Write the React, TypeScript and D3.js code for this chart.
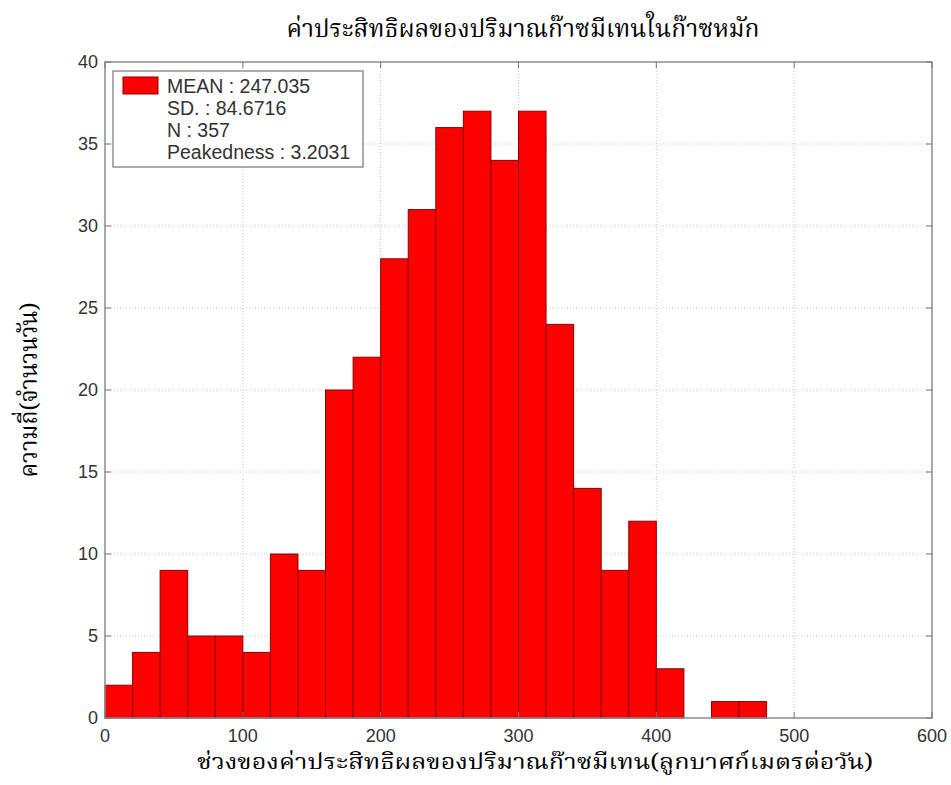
import React from "react";
import * as d3 from "d3";

const binStarts = [0, 20, 40, 60, 80, 100, 120, 140, 160, 180, 200, 220, 240, 260, 280, 300, 320, 340, 360, 380, 400, 420, 440, 460];
const counts = [2, 4, 9, 5, 5, 4, 10, 9, 20, 22, 28, 31, 36, 37, 34, 37, 24, 14, 9, 12, 3, 0, 1, 1];
const binWidth = 20;
const xTicks = [0, 100, 200, 300, 400, 500, 600];
const yTicks = [0, 5, 10, 15, 20, 25, 30, 35, 40];
const legendLines = ["MEAN : 247.035", "SD. : 84.6716", "N : 357", "Peakedness : 3.2031"];
const title = "ค่าประสิทธิผลของปริมาณก๊าซมีเทนในก๊าซหมัก";
const xLabel = "ช่วงของค่าประสิทธิผลของปริมาณก๊าซมีเทน(ลูกบาศก์เมตรต่อวัน)";
const yLabel = "ความถี่(จำนวนวัน)";

export default function App() {
  const W = 951, H = 785;
  const L = 105, R = 932, T = 62, B = 718;
  const x = d3.scaleLinear().domain([0, 600]).range([L, R]);
  const y = d3.scaleLinear().domain([0, 40]).range([B, T]);
  const tickFont = "Arial, 'Liberation Sans', sans-serif";
  const thaiFont = "'Noto Serif Thai', 'Noto Sans Thai', 'DejaVu Serif', serif";
  return (
    <svg width={W} height={H} style={{ position: "absolute", left: 0, top: 0, background: "#fff" }}>
      <rect x={0} y={0} width={W} height={H} fill="#fff" />
      {/* grid */}
      {xTicks.slice(1, -1).map((t) => (
        <line key={"gx" + t} x1={x(t)} x2={x(t)} y1={T} y2={B} stroke="#c8c8c8" strokeDasharray="1,2" />
      ))}
      {yTicks.slice(1, -1).map((t) => (
        <line key={"gy" + t} x1={L} x2={R} y1={y(t)} y2={y(t)} stroke="#c8c8c8" strokeDasharray="1,2" />
      ))}
      {/* bars */}
      {counts.map((c, i) =>
        c > 0 ? (
          <rect
            key={"b" + i}
            x={x(binStarts[i])}
            y={y(c)}
            width={x(binStarts[i] + binWidth) - x(binStarts[i])}
            height={y(0) - y(c)}
            fill="#ff0000"
            stroke="#8a0000"
            strokeWidth={1}
          />
        ) : null
      )}
      {/* axes box */}
      <rect x={L} y={T} width={R - L} height={B - T} fill="none" stroke="#8c8c8c" strokeWidth={1.5} />
      {/* ticks */}
      {xTicks.map((t) => (
        <g key={"xt" + t}>
          <line x1={x(t)} x2={x(t)} y1={B} y2={B - 6} stroke="#777" />
          <line x1={x(t)} x2={x(t)} y1={T} y2={T + 6} stroke="#777" />
          <text x={x(t)} y={742} textAnchor="middle" fontFamily={tickFont} fontSize={18} fill="#333">
            {t}
          </text>
        </g>
      ))}
      {yTicks.map((t) => (
        <g key={"yt" + t}>
          <line x1={L} x2={L + 6} y1={y(t)} y2={y(t)} stroke="#777" />
          <line x1={R} x2={R - 6} y1={y(t)} y2={y(t)} stroke="#777" />
          <text x={98} y={y(t)} dy="0.35em" textAnchor="end" fontFamily={tickFont} fontSize={18} fill="#333">
            {t}
          </text>
        </g>
      ))}
      {/* legend */}
      <rect x={113} y={71} width={250} height={96} fill="#fff" stroke="#777" strokeWidth={1.2} />
      <rect x={123} y={77} width={35} height={17} fill="#ff0000" stroke="#8a0000" strokeWidth={1} />
      {legendLines.map((s, i) => (
        <text key={"lg" + i} x={167} y={86 + i * 22} dy="0.35em" fontFamily={tickFont} fontSize={19.5} fill="#333">
          {s}
        </text>
      ))}
      {/* labels */}
      <text x={523} y={37} textAnchor="middle" fontFamily={thaiFont} fontSize={24} fill="#000" textLength={473} lengthAdjust="spacingAndGlyphs">
        {title}
      </text>
      <text x={535} y={769} textAnchor="middle" fontFamily={thaiFont} fontSize={22} fill="#000" textLength={676} lengthAdjust="spacingAndGlyphs">
        {xLabel}
      </text>
      <text
        transform={`translate(37,${(T + B) / 2}) rotate(-90)`}
        textAnchor="middle"
        fontFamily={thaiFont}
        fontSize={24}
        fill="#000"
        textLength={175}
        lengthAdjust="spacingAndGlyphs"
      >
        {yLabel}
      </text>
    </svg>
  );
}
